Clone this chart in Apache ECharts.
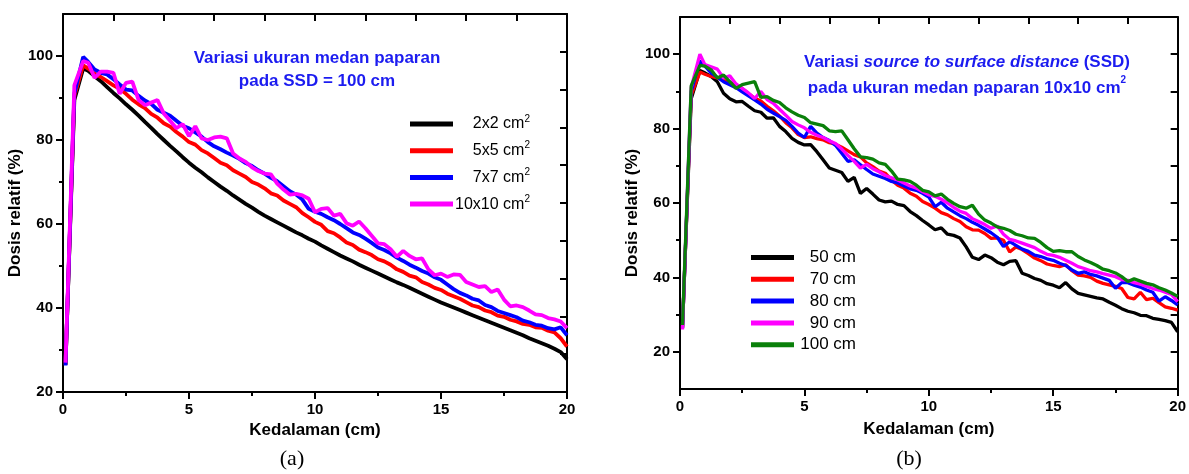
<!DOCTYPE html>
<html>
<head>
<meta charset="utf-8">
<script src="https://cdn.jsdelivr.net/npm/echarts@6/dist/echarts.min.js"></script>
<style>
html,body{margin:0;padding:0;background:#fff;}
#chart{width:1189px;height:474px;}
</style>
</head>
<body>
<div id="chart"></div>
<script>
// depth (cm), shared by all curves
const depth = [0.1,0.45,0.8,
 1,1.25,1.5,1.75, 2,2.25,2.5,2.75, 3,3.25,3.5,3.75, 4,4.25,4.5,4.75,
 5,5.25,5.5,5.75, 6,6.25,6.5,6.75, 7,7.25,7.5,7.75, 8,8.25,8.5,8.75,
 9,9.25,9.5,9.75, 10,10.25,10.5,10.75, 11,11.25,11.5,11.75, 12,12.25,12.5,12.75,
 13,13.25,13.5,13.75, 14,14.25,14.5,14.75, 15,15.25,15.5,15.75, 16,16.25,16.5,16.75,
 17,17.25,17.5,17.75, 18,18.25,18.5,18.75, 19,19.25,19.5,19.75, 20];

// (a) field size variation, SSD = 100 cm
const fieldNames = ['2x2','5x5','7x7','10x10'];
const field2x2 = [26.5,89.5,97.0,
 96.5,95.2,94.0,92.6, 91.2,89.9,88.5,87.2, 85.8,84.3,82.9,81.4, 80.0,78.6,77.3,75.9,
 74.6,73.4,72.3,71.1, 70.0,68.9,67.9,66.8, 65.8,64.8,63.9,62.9, 62.0,61.2,60.4,59.6,
 58.8,58.0,57.3,56.5, 55.8,54.9,54.1,53.3, 52.5,51.8,51.1,50.3, 49.6,48.9,48.2,47.5,
 46.8,46.1,45.5,44.8, 44.1,43.4,42.7,42.0, 41.3,40.7,40.1,39.5, 38.9,38.3,37.7,37.1,
 36.5,35.9,35.3,34.7, 34.1,33.5,32.8,32.2, 31.6,31.0,30.3,29.5, 27.8];
const field5x5 = [26.5,90.5,97.8,
 97.0,95.8,95.0,94.0, 93.0,92.2,91.0,89.6, 88.5,87.6,86.2,85.3, 84.0,83.2,81.9,80.8,
 79.5,78.9,77.6,76.8, 75.7,74.6,74.0,72.8, 72.0,71.2,70.0,69.4, 68.5,67.3,66.8,65.6,
 64.8,64.0,62.6,61.6, 60.5,59.8,58.3,57.8, 56.8,55.6,55.0,53.9, 53.3,52.6,51.6,51.1,
 50.3,49.2,48.6,47.7, 47.3,46.2,45.6,44.8, 44.3,43.4,42.8,42.2, 41.4,40.6,40.2,39.4,
 39.0,38.2,37.9,37.2, 36.8,36.2,36.0,35.4, 35.3,34.6,34.2,32.8, 30.8];
const field7x7 = [26.3,91.0,99.8,
 98.6,96.8,96.0,95.6, 94.5,93.2,92.0,91.8, 90.5,89.4,88.6,87.2, 86.5,85.8,84.6,83.4,
 82.8,81.8,80.8,79.5, 78.5,77.8,77.0,76.3, 75.5,74.5,73.8,72.8, 72.0,71.0,70.2,69.0,
 67.8,67.0,65.8,63.6, 62.9,62.4,61.6,60.9, 60.0,59.0,58.0,57.4, 56.5,55.5,54.4,53.8,
 53.0,52.0,51.2,50.3, 49.6,48.8,48.2,47.3, 46.7,45.6,44.5,43.6, 43.0,42.2,41.8,40.7,
 40.2,39.3,38.8,38.3, 37.8,37.0,36.6,36.0, 35.8,35.2,34.9,35.4, 33.5];
const field10x10 = [27.0,93.0,98.8,
 98.4,94.8,96.3,96.3, 96.0,91.0,93.6,93.9, 89.5,88.3,88.9,89.5, 86.3,84.6,82.8,83.8,
 80.9,83.3,80.4,80.0, 80.6,80.8,80.4,76.8, 75.6,74.8,73.5,72.6, 72.0,71.8,69.6,68.2,
 67.0,67.2,66.8,66.0, 62.8,63.6,63.8,62.0, 62.4,60.2,59.6,60.6, 59.0,57.2,55.4,55.2,
 54.0,52.2,53.6,52.4, 51.6,51.8,49.2,47.8, 48.2,47.4,48.0,47.9, 46.2,45.6,45.0,45.2,
 43.8,44.4,42.0,40.4, 40.6,40.2,39.4,38.5, 38.3,37.6,37.3,36.8, 35.2];

// (b) SSD variation, field 10x10 cm2
const ssdNames = ['50 cm','70 cm','80 cm','90 cm','100 cm'];
const ssd50 = [26.5,88.0,95.6,
 95.0,94.0,92.6,89.5, 88.0,87.2,87.3,86.0, 84.8,84.4,82.8,82.9, 80.6,79.2,77.4,76.3,
 75.6,75.7,73.8,71.6, 69.4,68.8,68.2,65.8, 66.9,62.6,63.9,62.4, 60.8,60.3,60.5,59.6,
 59.3,57.7,56.6,55.3, 54.1,52.8,53.3,51.6, 51.3,50.6,48.2,45.4, 44.8,46.0,45.3,44.1,
 43.4,44.3,44.5,41.1, 40.5,39.7,39.2,38.3, 37.9,37.2,38.6,36.9, 35.7,35.3,34.9,34.5,
 34.2,33.3,32.5,31.6, 30.9,30.5,29.8,29.7, 29.0,28.7,28.4,27.9, 25.4];
const ssd70 = [26.5,89.0,95.2,
 94.6,94.0,93.6,93.0, 92.4,91.8,90.8,89.4, 88.2,87.4,86.0,84.8, 83.4,81.6,80.2,78.4,
 77.6,77.8,77.3,77.0, 76.2,75.8,75.0,74.0, 73.0,72.4,70.8,69.8, 68.6,68.0,66.2,64.8,
 64.0,62.6,61.8,60.4, 59.6,58.6,57.4,56.8, 55.8,55.0,53.6,52.8, 52.7,51.8,50.5,50.6,
 50.0,46.8,48.2,47.5, 46.4,45.2,44.5,43.6, 43.2,42.9,43.4,41.8, 40.6,40.4,40.0,39.0,
 38.4,38.0,37.6,37.0, 34.6,34.2,36.0,34.0, 34.4,33.2,32.1,31.7, 31.2];
const ssd80 = [26.3,90.0,98.2,
 96.8,95.0,93.8,92.6, 91.8,91.0,89.9,88.8, 87.7,86.6,85.2,84.2, 83.2,82.2,80.6,78.8,
 77.6,80.6,78.8,77.6, 76.8,75.5,73.4,71.2, 71.6,70.3,69.0,67.8, 67.2,66.6,65.8,65.4,
 64.6,63.8,63.4,62.6, 61.6,59.0,60.2,58.6, 57.6,56.6,55.8,54.8, 54.0,53.0,52.0,50.8,
 48.3,49.6,48.6,47.6, 47.0,46.0,45.6,45.0, 44.6,43.8,43.2,42.0, 41.1,41.5,40.8,40.4,
 39.8,39.2,37.1,38.6, 38.6,37.9,37.4,36.6, 36.0,33.6,34.8,33.8, 32.6];
const ssd90 = [26.0,91.0,100.0,
 97.2,96.6,96.0,93.6, 94.2,92.0,90.8,89.6, 88.1,90.0,87.8,86.8, 85.2,83.6,81.9,81.0,
 80.2,79.0,78.2,77.6, 76.7,76.0,74.5,72.8, 71.2,69.4,70.4,69.2, 68.4,67.4,66.8,66.2,
 65.4,64.6,64.0,63.0, 62.2,61.8,61.0,60.0, 58.8,57.8,57.2,55.8, 55.0,54.2,53.2,53.8,
 51.6,50.2,49.8,49.2, 48.6,48.0,47.0,46.2, 45.9,45.4,44.6,43.8, 42.9,42.4,41.8,41.5,
 41.0,40.6,40.2,39.4, 39.2,38.6,38.2,37.6, 37.0,36.6,36.0,35.4, 33.5];
const ssd100 = [27.2,91.5,97.0,
 96.8,95.8,93.6,94.4, 92.6,90.8,91.8,92.2, 92.6,88.4,88.6,87.6, 87.0,85.6,84.5,83.6,
 83.0,81.6,81.2,80.8, 79.4,79.2,79.4,77.0, 74.6,72.4,72.2,71.8, 70.8,70.4,68.6,66.4,
 66.2,65.8,64.8,63.4, 63.0,61.9,62.4,61.0, 59.9,59.0,58.6,59.4, 57.0,55.4,54.6,53.6,
 53.2,52.6,51.6,51.2, 50.6,50.5,49.4,48.0, 47.0,47.2,46.9,46.9, 45.6,44.7,44.0,43.2,
 42.2,41.8,41.2,40.2, 38.9,39.6,39.0,38.4, 38.0,37.2,36.6,35.8, 34.9];

const xTickLabels = [0,5,10,15,20];
const yTickLabels = [20,40,60,80,100];
const yMinorTicks = [30,50,70,90];

const FONT = '"Liberation Sans", Arial, Helvetica, sans-serif';
const BLUE_TXT = '#1c1cf0';
const lineColA = ['#000000','#ff0000','#0000ff','#ff00ff'];
const lineColB = ['#000000','#ff0000','#0000ff','#ff00ff','#0a800a'];

const pairs = vals => depth.map((d, i) => [d, vals[i]]);

const axLine = {show:true, onZero:false, lineStyle:{color:'#000', width:2}};
const tickStyle = {color:'#000', width:2};
const lblStyle = {fontFamily:FONT, fontSize:15, fontWeight:'bold', color:'#000'};
const nameStyle = {fontFamily:FONT, fontSize:17, fontWeight:'bold', color:'#000'};

function bottomX(g, gap){
  return {gridIndex:g, type:'value', min:0, max:20, interval:5, position:'bottom',
    axisLine:axLine, axisTick:{length:7, lineStyle:tickStyle},
    minorTick:{show:true, splitNumber:2, length:4, lineStyle:tickStyle},
    splitLine:{show:false}, minorSplitLine:{show:false},
    axisLabel:Object.assign({margin:10}, lblStyle),
    name:'Kedalaman (cm)', nameLocation:'middle', nameGap:gap, nameTextStyle:nameStyle};
}
function topX(g){
  return {gridIndex:g, type:'value', min:0, max:20, interval:2, position:'top',
    axisLine:axLine, axisTick:{inside:true, length:7, lineStyle:tickStyle},
    axisLabel:{show:false}, splitLine:{show:false}};
}
function leftY(g, mn, gap){
  return {gridIndex:g, type:'value', min:mn, max:110, position:'left',
    axisLine:axLine,
    axisTick:{length:7, lineStyle:tickStyle, customValues:yTickLabels},
    axisLabel:Object.assign({margin:10, customValues:yTickLabels}, lblStyle),
    splitLine:{show:false},
    name:'Dosis relatif (%)', nameLocation:'middle', nameGap:gap, nameRotate:90,
    nameTextStyle:Object.assign({padding:[0,20,0,0]}, nameStyle)};
}
function minorY(g, mn){
  return {gridIndex:g, type:'value', min:mn, max:110, position:'left',
    axisLine:{show:false}, axisTick:{length:4, lineStyle:tickStyle, customValues:yMinorTicks},
    axisLabel:{show:false}, splitLine:{show:false}};
}
function rightY(g, mn, step){
  return {gridIndex:g, type:'value', min:mn, max:110, interval:step, position:'right',
    axisLine:axLine, axisTick:{inside:true, length:7, lineStyle:tickStyle},
    axisLabel:{show:false}, splitLine:{show:false}};
}

const seriesA = [field2x2, field5x5, field7x7, field10x10].map((v, i) => ({
  name: fieldNames[i], type:'line', xAxisIndex:0, yAxisIndex:0,
  data: pairs(v), showSymbol:false, color: lineColA[i],
  lineStyle:{width:3.8, color: lineColA[i]}, animation:false, z: 2 + i
}));
const seriesB = [ssd50, ssd70, ssd80, ssd90, ssd100].map((v, i) => ({
  name: ssdNames[i], type:'line', xAxisIndex:2, yAxisIndex:3,
  data: pairs(v), showSymbol:false, color: lineColB[i],
  lineStyle:{width:3.3, color: lineColB[i]}, animation:false, z: 2 + i
}));

const option = {
  backgroundColor:'#ffffff',
  animation:false,
  grid:[
    {left:63, top:14, width:504, height:378, containLabel:false},
    {left:680, top:17, width:498, height:372, containLabel:false}
  ],
  xAxis:[ bottomX(0, 30), topX(0), bottomX(1, 32), topX(1) ],
  yAxis:[ leftY(0, 20, 36), minorY(0, 20), rightY(0, 20, 9),
          leftY(1, 10, 38), minorY(1, 10), rightY(1, 10, 10) ],
  legend:[
    {data:fieldNames, orient:'vertical', left:410, top:114, padding:0,
     itemWidth:43, itemHeight:5, itemGap:8.7, icon:'rect', selectedMode:false,
     formatter: n => '{n|' + n + ' cm}{s|2}',
     textStyle:{width:72, fontFamily:FONT, color:'#000',
       rich:{ n:{fontFamily:FONT, fontSize:16, color:'#000', lineHeight:20, align:'right'},
              s:{fontFamily:FONT, fontSize:10, color:'#000', lineHeight:20, align:'right', verticalAlign:'top'} }}},
    {data:ssdNames, orient:'vertical', left:751, top:249, padding:0,
     itemWidth:43, itemHeight:5, itemGap:4.8, icon:'rect', selectedMode:false,
     formatter: n => '{n|' + n + '}',
     textStyle:{width:57, fontFamily:FONT, color:'#000',
       rich:{ n:{fontFamily:FONT, fontSize:17, color:'#000', lineHeight:20, align:'right'} }}}
  ],
  graphic:[
    {type:'text', x:317, y:69.5, silent:true, style:{
      text:'{b|Variasi ukuran medan paparan}\n{b|pada SSD = 100 cm}',
      align:'center', verticalAlign:'middle',
      rich:{ b:{fontFamily:FONT, fontSize:17, fontWeight:'bold', fill:BLUE_TXT, lineHeight:23, align:'center'} }}},
    {type:'text', x:967, y:75, silent:true, style:{
      text:'{b|Variasi }{i|source to surface distance}{b| (SSD)}\n{b|pada ukuran medan paparan 10x10 cm}{s|2}',
      align:'center', verticalAlign:'middle',
      rich:{ b:{fontFamily:FONT, fontSize:17, fontWeight:'bold', fill:BLUE_TXT, lineHeight:26},
             i:{fontFamily:FONT, fontSize:17, fontWeight:'bold', fontStyle:'italic', fill:BLUE_TXT, lineHeight:26},
             s:{fontFamily:FONT, fontSize:10, fontWeight:'bold', fill:BLUE_TXT, lineHeight:26, verticalAlign:'top'} }}},
    {type:'text', x:292, y:459, silent:true, style:{
      text:'(a)', align:'center', verticalAlign:'middle',
      font:'22px "Liberation Serif", "Times New Roman", serif', fill:'#000'}},
    {type:'text', x:909, y:459, silent:true, style:{
      text:'(b)', align:'center', verticalAlign:'middle',
      font:'22px "Liberation Serif", "Times New Roman", serif', fill:'#000'}}
  ],
  series: seriesA.concat(seriesB)
};

const chart = echarts.init(document.getElementById('chart'), null, {renderer:'canvas'});
chart.setOption(option);
</script>
</body>
</html>
